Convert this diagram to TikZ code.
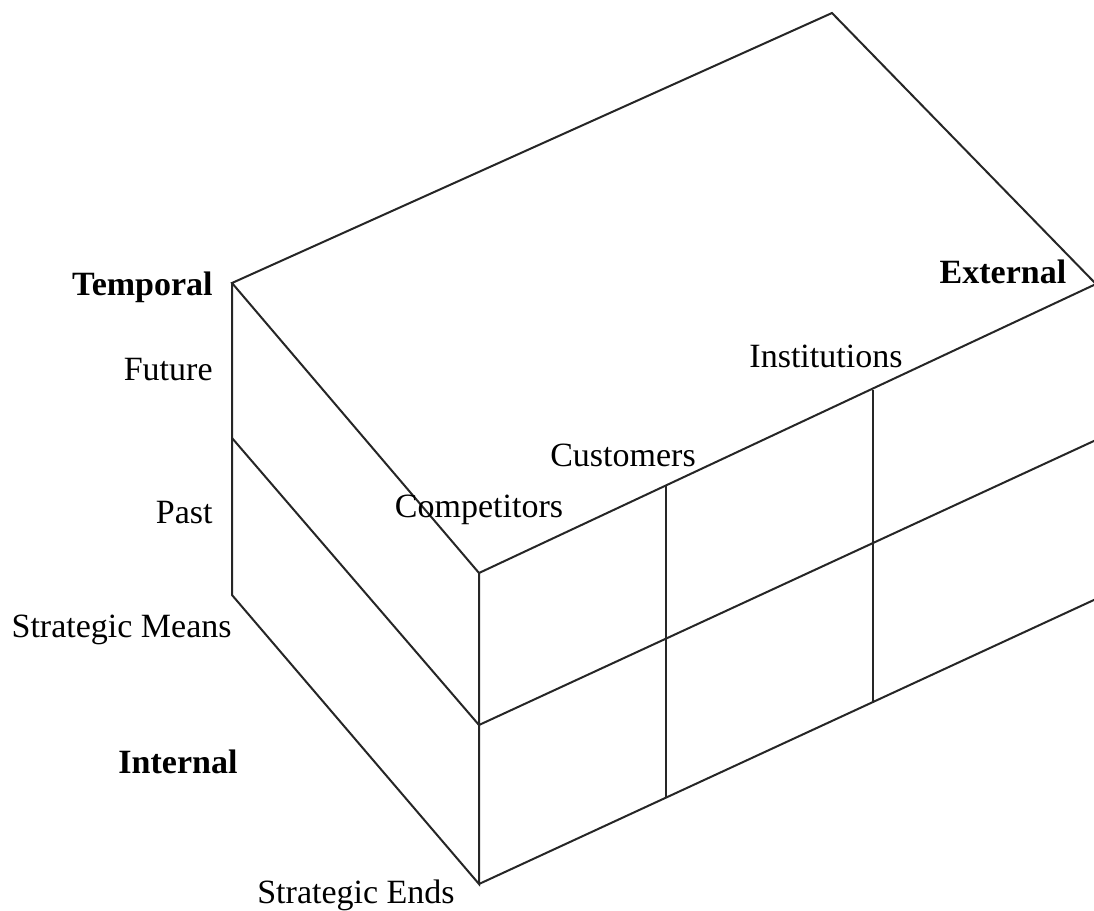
\documentclass[tikz,border=0pt]{standalone}
\usepackage{fontspec}
\setmainfont{Liberation Serif}
\begin{document}
\begin{tikzpicture}[x=0.5pt,y=-0.5pt,
  edge/.style={line width=1pt,black!85},
  lbl/.style={inner sep=0pt,font=\fontsize{17}{20}\selectfont},
  blbl/.style={inner sep=0pt,font=\fontsize{17}{20}\selectfont\bfseries}]
\useasboundingbox (0,0) rectangle (1094,911);
\clip (0,0) rectangle (1094,911);
% vertices
\coordinate (A) at (232,283);
\coordinate (B) at (832,13);
\coordinate (C) at (1096,284);
\coordinate (F) at (479,573);
\coordinate (Lm) at (232,438);
\coordinate (Lb) at (232,595);
\coordinate (Fm) at (479,725);
\coordinate (Fb) at (479,884);
\coordinate (Rm) at (1096,440);
\coordinate (Rb) at (1096,599);
\coordinate (V1t) at (666,486);
\coordinate (V1b) at (666,798);
\coordinate (V2t) at (873,390);
\coordinate (V2b) at (873,702);
% box edges
\draw[edge] (F) -- (A) -- (B) -- (C) -- (F);
\draw[edge] (A) -- (Lm) -- (Lb) -- (Fb) -- (Fm) -- (F);
\draw[edge] (Lm) -- (Fm) -- (Rm);
\draw[edge] (Fb) -- (Rb);
\draw[edge] (V1t) -- (V1b);
\draw[edge] (V2t) -- (V2b);
% labels
\node[blbl,anchor=base east] (temporal) at (213,295) {Temporal};
\node[lbl,anchor=base east] (future) at (213,380) {Future};
\node[lbl,anchor=base east] (past) at (213,523) {Past};
\node[lbl,anchor=base east] (smeans) at (232,637) {Strategic Means};
\node[blbl,anchor=base] (internal) at (178,773) {Internal};
\node[lbl,anchor=base] (sends) at (356,903) {Strategic Ends};
\node[lbl,anchor=base] (competitors) at (479,517) {Competitors};
\node[lbl,anchor=base] (customers) at (623,466) {Customers};
\node[lbl,anchor=base] (institutions) at (826,367) {Institutions};
\node[blbl,anchor=base] (external) at (1003,283) {External};
\end{tikzpicture}
\end{document}
